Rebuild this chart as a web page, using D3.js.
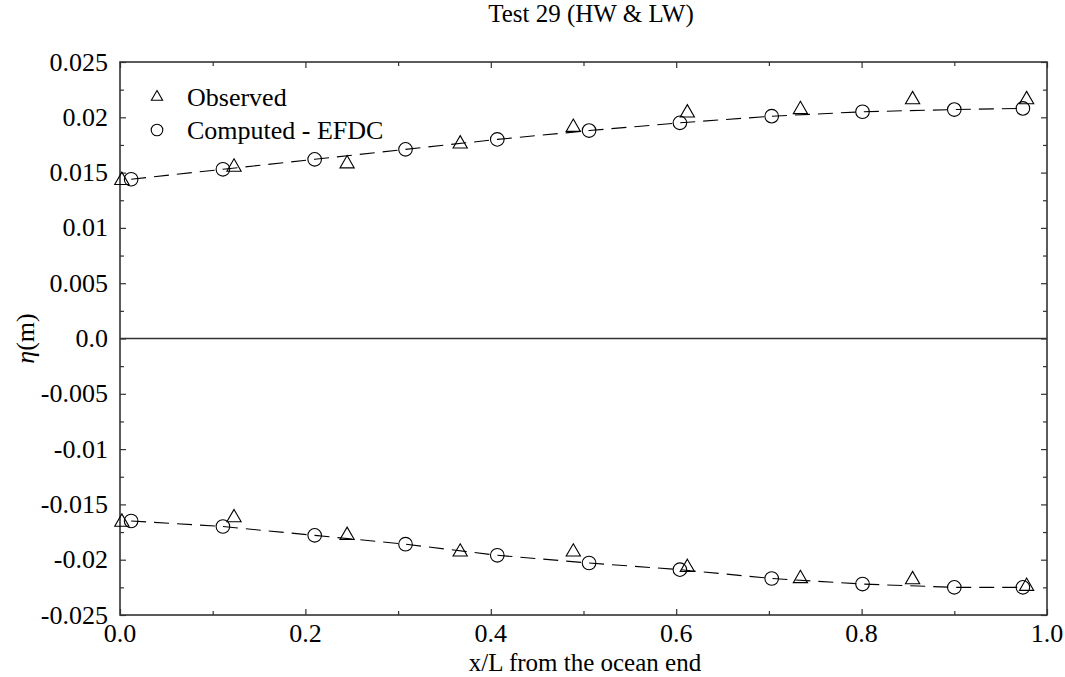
<!DOCTYPE html>
<html>
<head>
<meta charset="utf-8">
<script src="https://cdn.jsdelivr.net/npm/d3@7"></script>
<style>
  html, body { margin: 0; padding: 0; background: #fff; }
</style>
</head>
<body>
<svg id="chart" width="1065" height="677" font-family="'Liberation Serif', 'Times New Roman', Times, 'DejaVu Serif', serif"></svg>
<script>
// Observed stations (x/L) and water levels (m) at high and low water
const obsX  = [0.002, 0.123, 0.245, 0.367, 0.489, 0.612, 0.734, 0.855, 0.978];
const obsHW = [0.0143, 0.0155, 0.0158, 0.0176, 0.0191, 0.0204, 0.0207, 0.0216, 0.0216];
const obsLW = [-0.0166, -0.0162, -0.0178, -0.0193, -0.0193, -0.0207, -0.0217, -0.0218, -0.0224];

// EFDC computed profile
const modX  = [0.012, 0.111, 0.210, 0.308, 0.407, 0.506, 0.604, 0.703, 0.801, 0.900, 0.974];
const modHW = [0.0144, 0.0153, 0.0162, 0.0171, 0.0180, 0.0188, 0.0195, 0.0201, 0.0205, 0.0207, 0.0208];
const modLW = [-0.0165, -0.0170, -0.0178, -0.0186, -0.0196, -0.0203, -0.0209, -0.0217, -0.0222, -0.0225, -0.0225];

// Axis ticks
const xMajor = [0, 0.2, 0.4, 0.6, 0.8, 1.0];
const xMinor = [0.1, 0.3, 0.5, 0.7, 0.9];
const yMajor = [0.025, 0.02, 0.015, 0.01, 0.005, 0, -0.005, -0.01, -0.015, -0.02, -0.025];
const yLabels = ["0.025", "0.02", "0.015", "0.01", "0.005", "0.0", "-0.005", "-0.01", "-0.015", "-0.02", "-0.025"];
const yMinor = [0.0225, 0.0175, 0.0125, 0.0075, 0.0025, -0.0025, -0.0075, -0.0125, -0.0175, -0.0225];

const svg = d3.select("#chart");
const plotL = 120, plotR = 1047, plotT = 62, plotB = 615;

const x = d3.scaleLinear().domain([0, 1]).range([plotL, plotR]);
const y = d3.scaleLinear().domain([-0.025, 0.025]).range([plotB, plotT]);

const frameColor = "#333";
const fontSize = 26;

// Inward ticks on all four sides
function tickAxis(axisGen, transform) {
  const g = svg.append("g").attr("transform", transform).call(axisGen);
  g.select(".domain").remove();
  g.selectAll("line").attr("stroke", frameColor).attr("stroke-width", 1.2);
  return g;
}
const fmtX = d => d3.format(".1f")(d);

tickAxis(d3.axisBottom(x).tickValues(xMajor).tickSizeInner(-6).tickSizeOuter(0).tickFormat(""), `translate(0,${plotB})`);
tickAxis(d3.axisBottom(x).tickValues(xMinor).tickSizeInner(-4).tickSizeOuter(0).tickFormat(""), `translate(0,${plotB})`);
tickAxis(d3.axisTop(x).tickValues(xMajor).tickSizeInner(-6).tickSizeOuter(0).tickFormat(""), `translate(0,${plotT})`);
tickAxis(d3.axisTop(x).tickValues(xMinor).tickSizeInner(-4).tickSizeOuter(0).tickFormat(""), `translate(0,${plotT})`);
tickAxis(d3.axisLeft(y).tickValues(yMajor).tickSizeInner(-6).tickSizeOuter(0).tickFormat(""), `translate(${plotL},0)`);
tickAxis(d3.axisLeft(y).tickValues(yMinor).tickSizeInner(-4).tickSizeOuter(0).tickFormat(""), `translate(${plotL},0)`);
tickAxis(d3.axisRight(y).tickValues(yMajor).tickSizeInner(-6).tickSizeOuter(0).tickFormat(""), `translate(${plotR},0)`);
tickAxis(d3.axisRight(y).tickValues(yMinor).tickSizeInner(-4).tickSizeOuter(0).tickFormat(""), `translate(${plotR},0)`);

// Tick labels
svg.append("g").selectAll("text").data(xMajor).join("text")
  .attr("x", d => x(d)).attr("y", plotB + 27)
  .attr("text-anchor", "middle").attr("font-size", fontSize)
  .text(fmtX);
svg.append("g").selectAll("text").data(yMajor).join("text")
  .attr("x", plotL - 12).attr("y", d => y(d)).attr("dy", "0.33em")
  .attr("text-anchor", "end").attr("font-size", fontSize)
  .text((d, i) => yLabels[i]);

// Frame
svg.append("rect")
  .attr("x", plotL).attr("y", plotT).attr("width", plotR - plotL).attr("height", plotB - plotT)
  .attr("fill", "none").attr("stroke", frameColor).attr("stroke-width", 1.6);

// Zero line
svg.append("line")
  .attr("x1", x(0)).attr("x2", x(1)).attr("y1", y(0)).attr("y2", y(0))
  .attr("stroke", frameColor).attr("stroke-width", 1.4);

// Computed profiles: dashed line with open circles
const line = d3.line().x(d => x(d[0])).y(d => y(d[1]));
[modHW, modLW].forEach(series => {
  const pts = modX.map((v, i) => [v, series[i]]);
  svg.append("path").datum(pts)
    .attr("d", line).attr("fill", "none")
    .attr("stroke", "#000").attr("stroke-width", 1.1)
    .attr("stroke-dasharray", "15,8");
  svg.append("g").selectAll("circle").data(pts).join("circle")
    .attr("cx", d => x(d[0])).attr("cy", d => y(d[1])).attr("r", 6.8)
    .attr("fill", "none").attr("stroke", "#000").attr("stroke-width", 1.1);
});

// Observed values: open triangles
const tri = d3.symbol().type(d3.symbolTriangle).size(88);
[obsHW, obsLW].forEach(series => {
  const pts = obsX.map((v, i) => [v, series[i]]);
  svg.append("g").selectAll("path").data(pts).join("path")
    .attr("d", tri)
    .attr("transform", d => `translate(${x(d[0])},${y(d[1])})`)
    .attr("fill", "none").attr("stroke", "#000").attr("stroke-width", 1.1);
});

// Legend
const legend = svg.append("g").attr("transform", `translate(${plotL + 37},0)`);
legend.append("path").attr("d", d3.symbol().type(d3.symbolTriangle).size(55))
  .attr("transform", "translate(0,97)")
  .attr("fill", "none").attr("stroke", "#000").attr("stroke-width", 1.1);
legend.append("text").attr("x", 30).attr("y", 97).attr("dy", "0.33em")
  .attr("font-size", fontSize).text("Observed");
legend.append("circle").attr("cx", 0).attr("cy", 130).attr("r", 5.8)
  .attr("fill", "none").attr("stroke", "#000").attr("stroke-width", 1.1);
legend.append("text").attr("x", 30).attr("y", 130).attr("dy", "0.33em")
  .attr("font-size", fontSize).text("Computed - EFDC");

// Title
svg.append("text").attr("x", 591).attr("y", 22)
  .attr("text-anchor", "middle").attr("font-size", 25)
  .text("Test 29 (HW & LW)");

// Axis titles
svg.append("text").attr("x", 585).attr("y", 671)
  .attr("text-anchor", "middle").attr("font-size", 25)
  .text("x/L from the ocean end");

const yTitle = svg.append("text")
  .attr("transform", `translate(34,${y(0)}) rotate(-90)`)
  .attr("text-anchor", "middle").attr("font-size", fontSize);
yTitle.append("tspan").attr("font-style", "italic").text("η");
yTitle.append("tspan").text("(m)");
</script>
</body>
</html>
